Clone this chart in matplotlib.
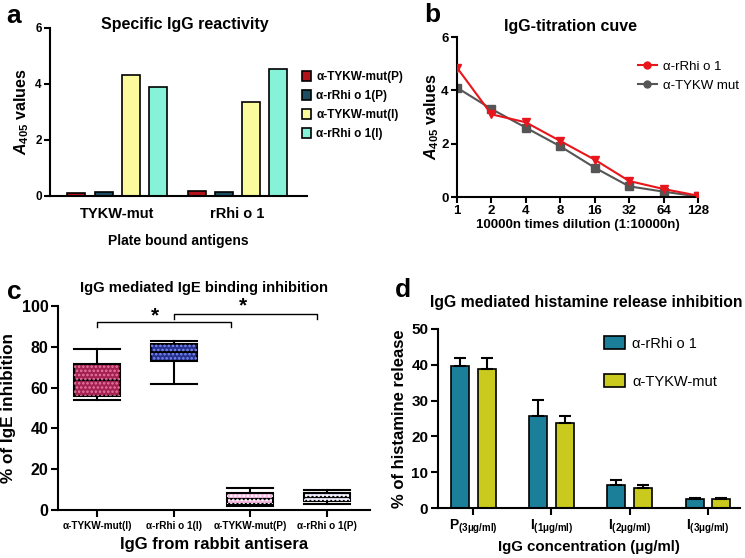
import matplotlib
matplotlib.use("Agg")
import matplotlib.pyplot as plt
from matplotlib.lines import Line2D
from matplotlib.patches import Patch, PathPatch
import numpy as np

plt.rcParams["font.family"] = ["Liberation Sans", "DejaVu Sans"]
plt.rcParams["font.weight"] = "bold"
plt.rcParams["axes.labelweight"] = "bold"
plt.rcParams["axes.linewidth"] = 1.5
plt.rcParams["xtick.major.width"] = 1.5
plt.rcParams["ytick.major.width"] = 1.5
plt.rcParams["mathtext.fontset"] = "custom"
plt.rcParams["mathtext.rm"] = "Liberation Sans:bold"
plt.rcParams["mathtext.it"] = "Liberation Sans:italic:bold"
plt.rcParams["mathtext.bf"] = "Liberation Sans:bold"
plt.rcParams["hatch.linewidth"] = 1.2

# ── data ────────────────────────────────────────────────────────────────────
# a: specific IgG reactivity
a_groups = ["TYKW-mut", "rRhi o 1"]
a_series = ["α-TYKW-mut(P)", "α-rRhi o 1(P)", "α-TYKW-mut(I)", "α-rRhi o 1(I)"]
a_values = [[0.12, 0.18], [0.16, 0.14], [4.33, 3.37], [3.88, 4.55]]
a_colors = ["#b3121a", "#1c4f63", "#fbfb9e", "#86f3d9"]

# b: titration curve
b_dilution = ["1", "2", "4", "8", "16", "32", "64", "128"]
b_rrhi = [4.85, 3.1, 2.8, 2.1, 1.4, 0.6, 0.3, 0.05]
b_tykw = [4.1, 3.3, 2.6, 1.9, 1.1, 0.4, 0.2, 0.02]

# c: IgE binding inhibition (box stats)
c_labels = ["α-TYKW-mut(I)", "α-rRhi o 1(I)", "α-TYKW-mut(P)", "α-rRhi o 1(P)"]
c_whislo = [54, 62, 2, 3]
c_q1 = [56, 73, 3, 4.5]
c_med = [63.5, 77.5, 5.5, 6.5]
c_q3 = [71.5, 81.5, 8.5, 8.5]
c_whishi = [79, 83, 11, 10]
c_face = ["#a3204f", "#25308f", "#f5b5df", "#d9d7f3"]
c_hatch = ["#e77aa5", "#7b8cf0", "#ffffff", "#ffffff"]

# d: histamine release
d_labels = [r"P$_{\mathregular{(3μg/ml)}}$", r"I$_{\mathregular{(1μg/ml)}}$",
            r"I$_{\mathregular{(2μg/ml)}}$", r"I$_{\mathregular{(3μg/ml)}}$"]
d_rrhi = [39.8, 25.8, 6.5, 2.4]
d_rrhi_err = [2.0, 4.4, 1.4, 0.5]
d_tykw = [38.8, 23.7, 5.5, 2.4]
d_tykw_err = [3.0, 2.0, 1.0, 0.5]

W, H = 745, 558
fig = plt.figure(figsize=(W / 100, H / 100), dpi=100)


def axes_px(l, t, r, b):
    return fig.add_axes([l / W, 1 - b / H, (r - l) / W, (b - t) / H])


def fig_text(px, py, s, **kw):
    fig.text(px / W, 1 - py / H, s, ha="center", va="center", **kw)


def _style(ax):
    ax.spines["top"].set_visible(False)
    ax.spines["right"].set_visible(False)


# ── a ───────────────────────────────────────────────────────────────────────
ax = axes_px(50, 28, 307, 196)
x = np.arange(len(a_groups))
offs = [-0.34, -0.113, 0.113, 0.34]
handles = []
for vals, col, off, lab in zip(a_values, a_colors, offs, a_series):
    ax.bar(x + off, vals, width=0.15, color=col, edgecolor="black", linewidth=1.2)
    handles.append(Patch(facecolor=col, edgecolor="black", linewidth=1.2, label=lab))
ax.set_xlim(-0.56, 1.58)
ax.set_ylim(0, 6)
ax.set_yticks([0, 2, 4, 6])
ax.set_xticks(x)
ax.set_xticklabels(a_groups, fontsize=10.5)
ax.tick_params(axis="x", length=0, pad=8)
ax.tick_params(axis="y", labelsize=8.5, length=4, pad=2)
ax.set_xlabel("Plate bound antigens", fontsize=10, labelpad=9)
ax.set_ylabel(r"$\mathit{A}_{405}$ values", fontsize=11.5, labelpad=3)
_style(ax)
fig_text(185, 25, "Specific IgG reactivity", fontsize=11.5, fontweight="bold")
fig.legend(handles=handles, loc="upper left", bbox_to_anchor=(296 / W, 1 - 65 / H),
           frameon=False, fontsize=8.5, handlelength=0.8, handleheight=0.9,
           handletextpad=0.4, labelspacing=0.6, borderpad=0)

# ── b ───────────────────────────────────────────────────────────────────────
ax = axes_px(457, 37, 698, 197)
xb = np.arange(len(b_dilution))
ax.plot(xb, b_rrhi, color="#e8161c", marker="v", markersize=5.5, linewidth=1.5, zorder=3)
ax.plot(xb, b_tykw, color="#555555", marker="s", markersize=5.5, linewidth=1.5, zorder=2)
ax.set_xlim(0, 7)
ax.set_ylim(0, 6)
ax.set_yticks([0, 2, 4, 6])
ax.set_xticks(xb)
ax.set_xticklabels(b_dilution)
ax.tick_params(labelsize=9.5, length=4, pad=2)
ax.set_xlabel("10000n times dilution (1:10000n)", fontsize=9.5, labelpad=1)
ax.set_ylabel(r"$\mathit{A}_{405}$ values", fontsize=11.5, labelpad=0)
_style(ax)
for sp in ax.spines.values():
    sp.set_clip_on(False)
fig_text(570, 27, "IgG-titration cuve", fontsize=11.5, fontweight="bold")
lh = [Line2D([], [], color="#e8161c", marker="o", markersize=5, linewidth=1.5),
      Line2D([], [], color="#555555", marker="o", markersize=5, linewidth=1.5)]
ax.legend(lh, ["α-rRhi o 1", "α-TYKW mut"], loc="upper left",
          bbox_to_anchor=(631 / W, 1 - 54 / H), bbox_transform=fig.transFigure,
          frameon=False, prop=dict(size=9.5, weight="normal"), handlelength=1.5,
          handletextpad=0.45, labelspacing=0.5, borderpad=0)

# ── c ───────────────────────────────────────────────────────────────────────
ax = axes_px(58, 306, 370, 510)
stats = [dict(whislo=lo, q1=q1, med=m, q3=q3, whishi=hi)
         for lo, q1, m, q3, hi in zip(c_whislo, c_q1, c_med, c_q3, c_whishi)]
pos = np.arange(1, len(c_labels) + 1)
bp = ax.bxp(stats, positions=pos, widths=0.6, showfliers=False, patch_artist=True,
            boxprops=dict(linewidth=1.5, edgecolor="black"),
            medianprops=dict(color="black", linewidth=1.5),
            whiskerprops=dict(linewidth=1.5), capprops=dict(linewidth=1.5))
for box, fc, hc in zip(bp["boxes"], c_face, c_hatch):
    box.set_facecolor(fc)
    ax.add_patch(PathPatch(box.get_path(), facecolor="none", edgecolor=hc,
                           hatch="....", linewidth=0, zorder=box.get_zorder() + 0.1))
for cap in bp["caps"]:
    c0 = cap.get_xdata().mean()
    cap.set_xdata([c0 - 0.3, c0 + 0.3])
ax.set_xlim(0.49, 4.56)
ax.set_ylim(0, 100)
ax.set_yticks(range(0, 101, 20))
ax.set_xticks(pos)
ax.set_xticklabels(c_labels, fontsize=7.2)
ax.tick_params(axis="y", labelsize=11.5, length=5, pad=2)
ax.tick_params(axis="x", length=5, pad=3)
ax.set_xlabel("IgG from rabbit antisera", fontsize=12, labelpad=4)
ax.set_ylabel("% of IgE inhibition", fontsize=12.3)
ax.yaxis.set_label_coords(-0.135, 0.5)
_style(ax)
# significance brackets
for x0, x1, y, star_x, star_y in [(1, 2.75, 92, 1.75, 90.5), (2, 3.87, 96, 2.9, 95.5)]:
    ax.plot([x0, x0, x1, x1], [y - 2.5, y, y, y - 2.5], color="black", linewidth=1.0,
            clip_on=False)
    ax.text(star_x, star_y, "*", ha="center", va="bottom", fontsize=15, clip_on=False)
fig_text(204, 288, "IgG mediated IgE binding inhibition", fontsize=10.6, fontweight="bold")

# ── d ───────────────────────────────────────────────────────────────────────
ax = axes_px(438, 329, 740, 508)
xd = np.arange(len(d_labels))
ax.bar(xd - 0.17, d_rrhi, width=0.23, color="#1b7f99", edgecolor="black", linewidth=1.2,
       yerr=[np.zeros(len(d_rrhi)), d_rrhi_err], capsize=4,
       error_kw=dict(elinewidth=1.5, capthick=1.5), label="α-rRhi o 1")
ax.bar(xd + 0.17, d_tykw, width=0.23, color="#c9c91e", edgecolor="black", linewidth=1.2,
       yerr=[np.zeros(len(d_tykw)), d_tykw_err], capsize=4,
       error_kw=dict(elinewidth=1.5, capthick=1.5), label="α-TYKW-mut")
ax.set_xlim(-0.45, 3.41)
ax.set_ylim(0, 50)
ax.set_yticks(range(0, 51, 10))
ax.set_xticks(xd)
ax.set_xticklabels(d_labels, fontsize=10)
ax.tick_params(axis="y", labelsize=11, length=5, pad=2)
ax.tick_params(axis="x", length=5, pad=2)
ax.set_xlabel("IgG concentration (μg/ml)", fontsize=10.8, labelpad=3)
ax.set_ylabel("% of histamine release", fontsize=12, labelpad=3)
_style(ax)
ax.legend(loc="upper left", bbox_to_anchor=(597 / W, 1 - 329 / H),
          bbox_transform=fig.transFigure, frameon=False,
          prop=dict(size=10.5, weight="normal"), handlelength=1.4, handleheight=1.0,
          handletextpad=0.5, labelspacing=1.6, borderpad=0)
fig_text(586, 303, "IgG mediated histamine release inhibition", fontsize=11.3,
         fontweight="bold")

# ── panel letters ───────────────────────────────────────────────────────────
for lab, px, py in [("a", 14, 16), ("b", 432, 15), ("c", 14, 292), ("d", 403, 290)]:
    fig_text(px, py, lab, fontsize=19, fontweight="bold")

fig.savefig("out.png", dpi=100, facecolor="white")
